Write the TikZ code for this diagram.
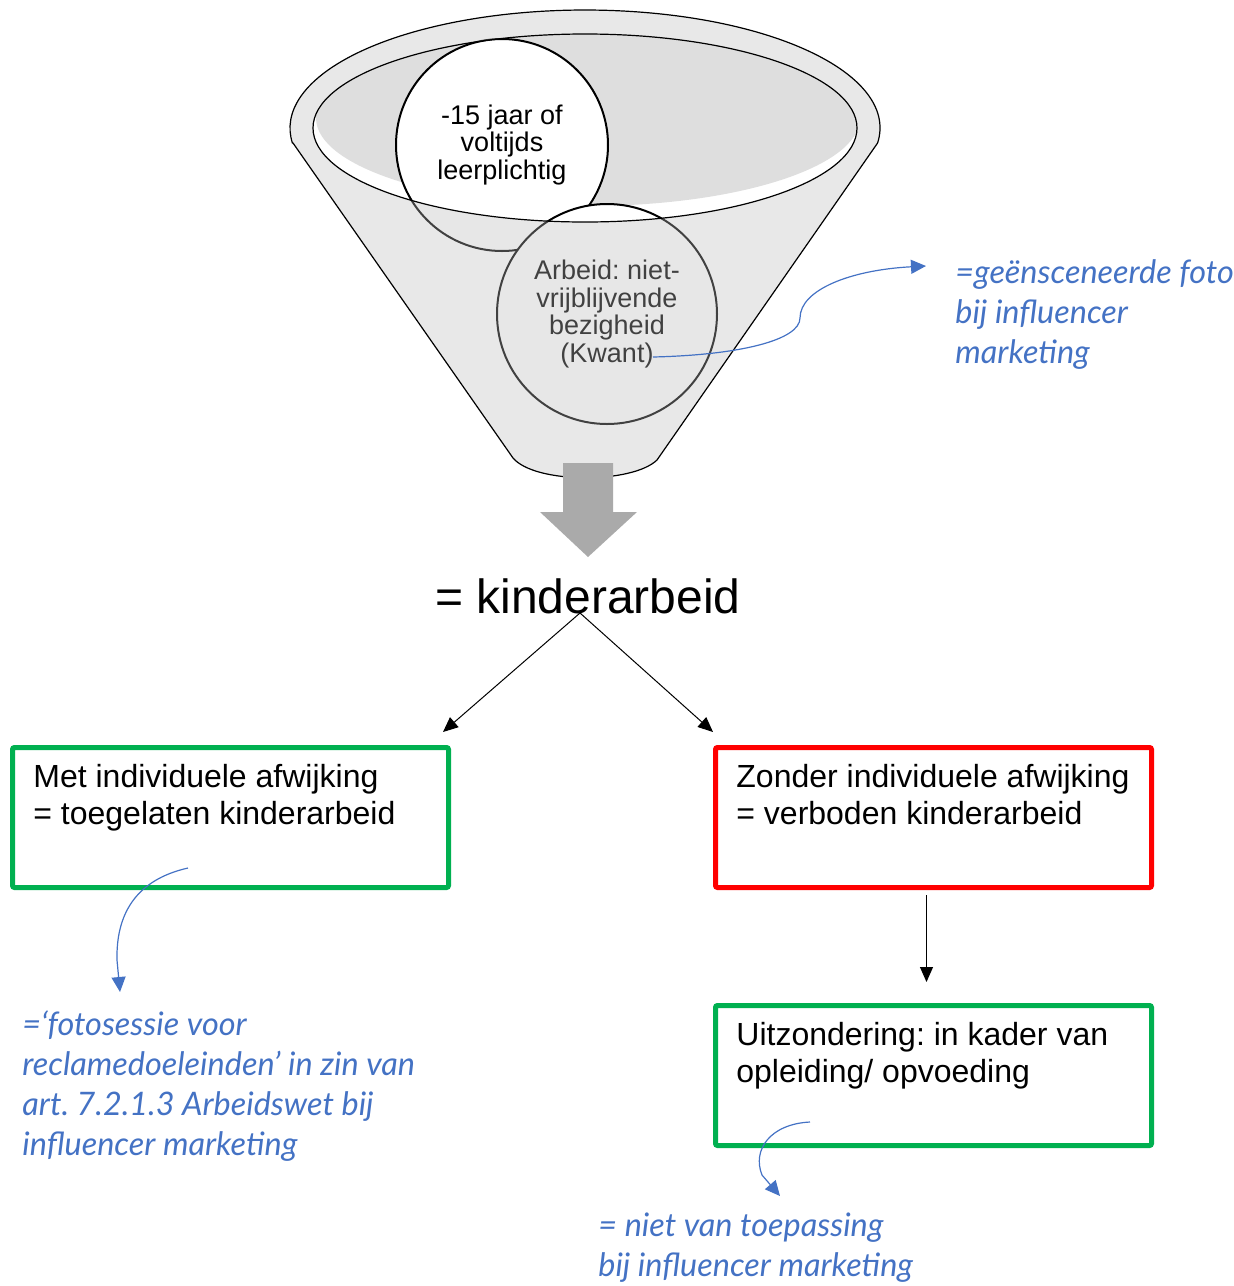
\documentclass[tikz,border=0pt]{standalone}
\usepackage{fontspec}
\setmainfont{Liberation Sans}
\newfontfamily\handfont{Lato}
\usepackage{xcolor}
\usetikzlibrary{arrows.meta}
\frenchspacing

\definecolor{groen}{HTML}{00B050}
\definecolor{rood}{HTML}{FF0000}
\definecolor{blauw}{HTML}{4472C4}
\definecolor{trechter}{HTML}{BDBDBD}
\definecolor{bakgrijs}{HTML}{DEDEDE}
\definecolor{pijlgrijs}{HTML}{AAAAAA}

\tikzset{
    kader/.style={draw=#1, line width=2.5pt, rounded corners=1pt, minimum width=218pt, minimum height=70pt, inner sep=0pt},
    kadertekst/.style={anchor=north west, inner sep=0pt, align=left, font=\fontsize{16}{18.5}\selectfont},
    bol/.style={circle, draw=black, line width=1pt, fill=white, inner sep=0pt, align=center, font=\fontsize{13.5}{13.8}\selectfont},
    pijl/.style={-{Triangle[length=7.5pt,width=6.5pt]}, line width=0.5pt},
    notitiepijl/.style={draw=blauw, line width=0.6pt, -{Triangle[length=7.5pt,width=7pt]}},
    hand/.style={anchor=north west, inner sep=0pt, align=left, text=blauw, font=\handfont\itshape\fontsize{16.2}{20}\selectfont},
}

\begin{document}
\begin{tikzpicture}[x=0.5pt, y=-0.5pt]
            \useasboundingbox (0,0) rectangle (1234,1286);

            % trechter: binnenkant
            \begin{scope}
                \clip (585,128) ellipse [x radius=272, y radius=94];
                \fill[bakgrijs] (588,118) ellipse [x radius=272, y radius=88];
            \end{scope}

            \node[bol, minimum size=106pt] (leeftijd) at (502,145) {-15 jaar of\\voltijds\\leerplichtig};
            \node[bol, minimum size=110pt] (arbeid) at (607,314) {Arbeid: niet-\\vrijblijvende\\bezigheid\\(Kwant)};

            % trechter: wand over de cirkels
            \fill[trechter, opacity=0.35, even odd rule] (293,143) -- (513,458) .. controls (535,484) and (632,484) .. (657,460) -- (877.6,143) arc [start angle=7.3, end angle=-187.3, x radius=295, y radius=118] -- cycle (585,128) ellipse [x radius=272, y radius=94];
            \draw[line width=0.6pt] (293,143) -- (513,458) .. controls (535,484) and (632,484) .. (657,460) -- (877.6,143) arc [start angle=7.3, end angle=-187.3, x radius=295, y radius=118] -- cycle;
            \draw[line width=0.6pt] (585,128) ellipse [x radius=272, y radius=94];

            % grote grijze pijl
            \fill[pijlgrijs] (563,463) -- (613,463) -- (613,512) -- (637,512) -- (588,557) -- (540,512) -- (563,512) -- cycle;

            \node[anchor=base, inner sep=0pt, font=\fontsize{24}{28}\selectfont] (kind) at (588,613) {= kinderarbeid};
            \coordinate (splits) at ([shift={(-8,0)}]kind.base);

            \node[kader=groen] (toegelaten) at (230.5,817.5) {};
            \node[kadertekst] (toegelaten-tekst) at ([shift={(23,19)}]toegelaten.north west) {Met individuele afwijking\\= toegelaten kinderarbeid};
            \node[kader=rood] (verboden) at (933.5,817.5) {};
            \node[kadertekst] (verboden-tekst) at ([shift={(23,19)}]verboden.north west) {Zonder individuele afwijking\\= verboden kinderarbeid};
            \node[kader=groen] (uitzondering) at (933.5,1075.5) {};
            \node[kadertekst] (uitzondering-tekst) at ([shift={(23,19)}]uitzondering.north west) {Uitzondering: in kader van\\opleiding/ opvoeding};

            \draw[pijl] (splits) -- ([shift={(-8,-13)}]toegelaten.north east); % naar toegelaten
            \draw[pijl] (splits) -- ([shift={(0,-13)}]verboden.north west); % naar verboden
            \draw[pijl] ([shift={(-7,5)}]verboden.south) -- ([shift={(-7,-21)}]uitzondering.north); % verboden -> uitzondering

            % notities
            \node[hand] (foto) at (955,259) {=geënsceneerde foto\\bij influencer\\marketing};
            \node[hand] (sessie) at (22,1010) {=‘fotosessie voor\\reclamedoeleinden’ in zin van\\art. 7.2.1.3 Arbeidswet bij\\influencer marketing};
            \node[hand] (nvt) at (598,1212) {= niet van toepassing\\bij influencer marketing};

            \coordinate (kwant) at (653,357);
            \coordinate (foto-in) at (926,266);
            \coordinate (toegelaten-uit) at (188,868);
            \coordinate (sessie-in) at (120,992);
            \coordinate (uitzondering-uit) at (810,1122);
            \coordinate (nvt-in) at (780,1196);

            \draw[notitiepijl] (kwant) .. controls (740,355) and (800,340) .. (800,318) .. controls (800,290) and (850,270) .. (foto-in);
            \draw[notitiepijl] (toegelaten-uit) .. controls (135,880) and (116,915) .. (117,960) -- (sessie-in);
            \draw[notitiepijl] (uitzondering-uit) .. controls (770,1124) and (752,1150) .. (762,1175) -- (nvt-in);
        \end{tikzpicture}
\end{document}
